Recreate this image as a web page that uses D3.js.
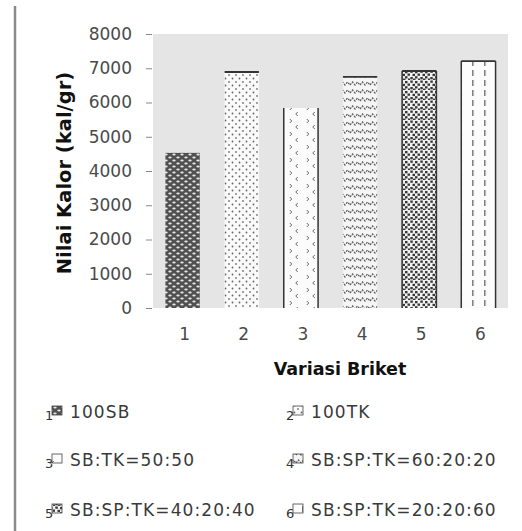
<!DOCTYPE html>
<html>
<head>
<meta charset="utf-8">
<script src="https://cdn.jsdelivr.net/npm/d3@7"></script>
<style>
  html, body { margin: 0; padding: 0; background: #fff; }
  svg { display: block; }
</style>
</head>
<body>
<svg id="chart" width="522" height="531"></svg>
<script>
// Calorific value of each briquette variation
const categories = ["1", "2", "3", "4", "5", "6"];
const values = [4530, 6890, 5840, 6750, 6920, 7210];
const legendLabels = ["100SB", "100TK", "SB:TK=50:50", "SB:SP:TK=60:20:20", "SB:SP:TK=40:20:40", "SB:SP:TK=20:20:60"];
const yTicks = [0, 1000, 2000, 3000, 4000, 5000, 6000, 7000, 8000];

const svg = d3.select("#chart");
const plot = { left: 153, right: 508, top: 34, bottom: 308 };

const x = d3.scaleBand().domain(categories)
  .range([plot.left, plot.right]).paddingInner(0.42).paddingOuter(0.21);
const y = d3.scaleLinear().domain([0, 8000]).range([plot.bottom, plot.top]);

// Fill patterns, one per variation
const defs = svg.append("defs");
function pat(id, w, h, bg, x0) {
  const p = defs.append("pattern").attr("id", id)
    .attr("patternUnits", "userSpaceOnUse").attr("width", w).attr("height", h)
    .attr("x", x0 || 0).attr("y", 0);
  p.append("rect").attr("width", w).attr("height", h).attr("fill", bg);
  return p;
}
// 1: dark with light holes
let p1 = pat("p1", 8, 6, "#505050");
p1.append("ellipse").attr("cx", 2).attr("cy", 1.5).attr("rx", 1.7).attr("ry", 1.1).attr("fill", "#e8e8e8");
p1.append("ellipse").attr("cx", 6).attr("cy", 4.5).attr("rx", 1.7).attr("ry", 1.1).attr("fill", "#e8e8e8");
// 2: sparse dots
let p2 = pat("p2", 7, 7, "#fafafa");
p2.append("circle").attr("cx", 1.5).attr("cy", 1.5).attr("r", 0.9).attr("fill", "#666");
p2.append("circle").attr("cx", 5).attr("cy", 5).attr("r", 0.9).attr("fill", "#777");
// 3: small chevrons in columns
let p3 = pat("p3", 17, 13, "#fbfbfb", x("3"));
p3.append("path").attr("d", "M6,2 l2,2 l-2,2").attr("fill", "none").attr("stroke", "#666").attr("stroke-width", 1);
p3.append("path").attr("d", "M14,8 l-2,2 l2,2").attr("fill", "none").attr("stroke", "#666").attr("stroke-width", 1);
// 4: wavy lines
let p4 = pat("p4", 10, 8, "#f5f5f5");
p4.append("path").attr("d", "M0,5 l2.5,-3 l2.5,3 l2.5,-3 l2.5,3").attr("fill", "none")
  .attr("stroke", "#555").attr("stroke-width", 1.2).attr("stroke-dasharray", "2,1.2");
// 5: dense confetti
let p5 = pat("p5", 10, 10, "#f2f2f2");
[[0.3,0.5],[5,1],[2.5,3.8],[7.5,3.5],[0.3,7],[5,6.2],[8,8.5],[3,8.6]].forEach(d =>
  p5.append("rect").attr("x", d[0]).attr("y", d[1]).attr("width", 2.5).attr("height", 2.3)
    .attr("fill", "#383838"));
// 6: vertical dashed lines
let p6 = pat("p6", 12, 10, "#fcfcfc", x("6") - 1);
p6.append("path").attr("d", "M0.6,0 v6").attr("stroke", "#555").attr("stroke-width", 1.2);

const fills = ["url(#p1)", "url(#p2)", "url(#p3)", "url(#p4)", "url(#p5)", "url(#p6)"];
// which edges of each bar carry a dark outline: [top, left, right]
const edges = [[0,0,0],[1,0,0],[0,1,1],[1,0,0],[1,1,1],[1,1,1]];

// Plot area background
svg.append("rect").attr("x", plot.left).attr("y", plot.top)
  .attr("width", plot.right - plot.left).attr("height", plot.bottom - plot.top)
  .attr("fill", "#e5e5e5");

// Frame line on the left
svg.append("line").attr("x1", 15).attr("x2", 15).attr("y1", 6).attr("y2", 531)
  .attr("stroke", "#8a8a8a").attr("stroke-width", 2.5);

// Y axis
const yAxis = d3.axisLeft(y).tickValues(yTicks).tickSize(6).tickPadding(14).tickFormat(d3.format("d"));
const gy = svg.append("g").attr("transform", `translate(${plot.left - 1},0)`).call(yAxis);
gy.select(".domain").remove();
gy.selectAll(".tick line").attr("stroke", "#888");
gy.selectAll(".tick text").attr("font-family", "DejaVu Sans").attr("font-size", 17)
  .attr("fill", "#4a4a4a");

// X axis
const xAxis = d3.axisBottom(x).tickSize(0).tickPadding(20);
const gx = svg.append("g").attr("transform", `translate(2,${plot.bottom})`).call(xAxis);
gx.select(".domain").remove();
gx.selectAll(".tick text").attr("font-family", "DejaVu Sans").attr("font-size", 17)
  .attr("fill", "#4a4a4a");

// Bars
const bars = svg.append("g").selectAll("g").data(categories).join("g");
bars.append("rect")
  .attr("x", d => x(d)).attr("width", x.bandwidth())
  .attr("y", (d, i) => y(values[i])).attr("height", (d, i) => y(0) - y(values[i]))
  .attr("fill", (d, i) => fills[i]);
bars.each(function(d, i) {
  const g = d3.select(this);
  const x0 = x(d), x1 = x(d) + x.bandwidth(), yt = y(values[i]), yb = y(0);
  const e = edges[i];
  if (e[0]) g.append("line").attr("x1", x0).attr("x2", x1).attr("y1", yt).attr("y2", yt)
    .attr("stroke", "#333").attr("stroke-width", 1.8);
  if (e[1]) g.append("line").attr("x1", x0).attr("x2", x0).attr("y1", yt).attr("y2", yb)
    .attr("stroke", "#333").attr("stroke-width", 1.5);
  if (e[2]) g.append("line").attr("x1", x1).attr("x2", x1).attr("y1", yt).attr("y2", yb)
    .attr("stroke", "#333").attr("stroke-width", 1.5);
});

// Axis titles
svg.append("text").attr("transform", "translate(71,173) rotate(-90)")
  .attr("text-anchor", "middle").attr("font-family", "DejaVu Sans").attr("font-weight", "bold")
  .attr("font-size", 19.5).attr("fill", "#111").text("Nilai Kalor (kal/gr)");
svg.append("text").attr("x", 340).attr("y", 375).attr("text-anchor", "middle")
  .attr("font-family", "DejaVu Sans").attr("font-weight", "bold").attr("font-size", 17.5)
  .attr("fill", "#111").text("Variasi Briket");

// Legend: two columns, three rows
const legCols = [45, 286], legRows = [418, 466, 516];
const leg = svg.append("g").selectAll("g").data(legendLabels).join("g")
  .attr("transform", (d, i) => `translate(${legCols[i % 2]},${legRows[Math.floor(i / 2)]})`);
leg.append("text").attr("x", 0).attr("y", 2).attr("font-family", "DejaVu Sans")
  .attr("font-size", 13).attr("fill", "#333").text((d, i) => categories[i]);
leg.append("rect").attr("x", 7).attr("y", -12).attr("width", 10).attr("height", 9)
  .attr("fill", (d, i) => fills[i]).attr("stroke", "#444").attr("stroke-width", 0.8);
leg.append("text").attr("x", 25).attr("y", 0).attr("font-family", "DejaVu Sans")
  .attr("font-size", 17).attr("letter-spacing", 1.1).attr("fill", "#3a3a3a").text(d => d);
</script>
</body>
</html>
